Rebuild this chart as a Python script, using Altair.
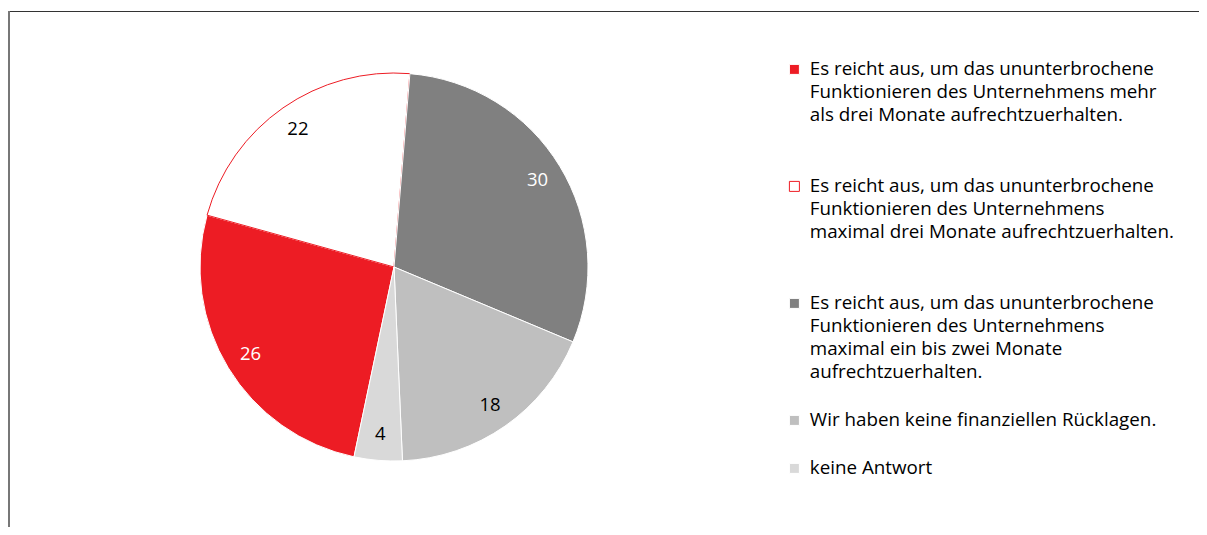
import altair as alt
import pandas as pd

categories = [
    "Es reicht aus, um das ununterbrochene|Funktionieren des Unternehmens mehr|als drei Monate aufrechtzuerhalten.|",
    "Es reicht aus, um das ununterbrochene|Funktionieren des Unternehmens|maximal drei Monate aufrechtzuerhalten.|",
    "Es reicht aus, um das ununterbrochene|Funktionieren des Unternehmens|maximal ein bis zwei Monate|aufrechtzuerhalten.",
    "Wir haben keine finanziellen Rücklagen.",
    "keine Antwort",
]
values = [26, 22, 30, 18, 4]
pie_order = [4, 5, 1, 2, 3]
fill_colors = ["#ED1C24", "#FFFFFF", "#808080", "#BFBFBF", "#D9D9D9"]
stroke_colors = ["#FFFFFF", "#ED1C24", "#FFFFFF", "#FFFFFF", "#FFFFFF"]
label_colors = ["#FFFFFF", "#000000", "#FFFFFF", "#000000", "#000000"]

df = pd.DataFrame({
    "cat": categories,
    "value": values,
    "ord": pie_order,
    "lc": label_colors,
})

FONT = "Open Sans"
start = 0.082
theta_scale = alt.Scale(range=[start, start + 6.283185307])

base = alt.Chart(df)

arcs = base.mark_arc(outerRadius=194, strokeWidth=1).encode(
    theta=alt.Theta("value:Q", stack=True, scale=theta_scale),
    order=alt.Order("ord:Q"),
    color=alt.Color(
        "cat:N",
        scale=alt.Scale(domain=categories, range=fill_colors),
        legend=alt.Legend(
            title=None,
            orient="none",
            legendX=777,
            legendY=52,
            symbolType="square",
            symbolSize=100,
            symbolStrokeWidth=1,
            labelFont=FONT,
            labelFontSize=18.8,
            labelColor="#000000",
            labelLimit=600,
            labelOffset=6,
            labelBaseline="middle",
            rowPadding=28,
            labelExpr="split(datum.label, '|')",
        ),
    ),
    stroke=alt.Stroke(
        "cat:N",
        scale=alt.Scale(domain=categories, range=stroke_colors),
        legend=None,
    ),
)

labels = base.mark_text(radius=168, font=FONT, fontSize=18.5, baseline="middle", align="center").encode(
    theta=alt.Theta("value:Q", stack=True, scale=theta_scale),
    order=alt.Order("ord:Q"),
    text=alt.Text("value:Q"),
    color=alt.Color("lc:N", scale=None),
)

frame_top = base.mark_rule(color="#333333", strokeWidth=1).encode(
    x=alt.value(0), x2=alt.value(1191), y=alt.value(3.5)
)
frame_left = base.mark_rule(color="#777777", strokeWidth=2).encode(
    x=alt.value(1), y=alt.value(3), y2=alt.value(527)
)

chart = alt.layer(arcs, labels, frame_top, frame_left).properties(
    width=772,
    height=518,
    padding={"left": 0, "top": 0, "right": 419, "bottom": 1},
    autosize=alt.AutoSizeParams(type="none"),
).configure(
    view={"strokeWidth": 0},
    style={"guide-label": {"lineHeight": 23}},
)

chart.save("out.html", embed_options={"renderer": "svg", "actions": False})
